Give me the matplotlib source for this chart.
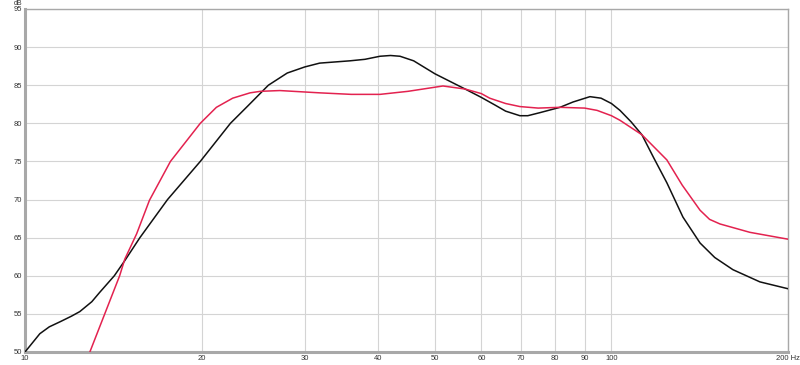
import matplotlib
matplotlib.use("Agg")
import matplotlib.pyplot as plt
from matplotlib.ticker import FixedLocator, NullLocator

# black trace (Hz, dB)
black_f = [10.0, 10.6, 11.0, 11.5, 12.0, 12.4, 13.0, 13.4, 14.2, 14.8, 15.7,
           17.5, 19.9, 22.4, 24.0, 26.0, 28.0, 30.0, 31.8, 35.8, 38.0, 40.3, 42.0,
           43.6, 46.0, 50.0, 56.3, 60.0, 63.3, 66.0, 69.8, 72.0, 75.5, 81.7, 86.0,
           91.9, 96.0, 100.0, 103.4, 108.0, 112.7, 118.0, 124.3, 132.4, 141.6,
           150.0, 161.1, 179.1, 200.0]
black_db = [50.0, 52.4, 53.3, 54.0, 54.7, 55.3, 56.6, 57.8, 60.0, 62.0, 65.0,
            70.0, 75.0, 80.0, 82.3, 85.0, 86.6, 87.4, 87.9, 88.2, 88.4, 88.8, 88.9,
            88.8, 88.2, 86.5, 84.5, 83.4, 82.4, 81.6, 81.0, 81.0, 81.4, 82.1, 82.8,
            83.5, 83.3, 82.6, 81.7, 80.2, 78.5, 75.5, 72.2, 67.7, 64.3, 62.4, 60.8,
            59.2, 58.3]

# red trace (Hz, dB)
red_f = [12.9, 14.5, 14.8, 15.5, 16.3, 17.7, 19.9, 21.2, 22.6, 24.2, 25.2,
         27.2, 31.8, 36.0, 40.3, 45.0, 51.6, 56.3, 60.0, 62.0, 66.0, 69.8, 75.0,
         81.7, 90.0, 94.5, 100.0, 103.4, 112.7, 124.3, 132.0, 141.6, 147.0, 153.1,
         172.2, 200.0]
red_db = [50.0, 60.0, 62.2, 65.5, 69.9, 75.0, 80.0, 82.1, 83.3, 84.0, 84.2,
          84.3, 84.0, 83.8, 83.8, 84.2, 84.9, 84.5, 83.9, 83.3, 82.6, 82.2, 82.0,
          82.1, 82.0, 81.7, 81.0, 80.4, 78.5, 75.2, 71.9, 68.6, 67.4, 66.8, 65.7,
          64.8]

xticks = [10, 20, 30, 40, 50, 60, 70, 80, 90, 100, 200]
xlabels = ["10", "20", "30", "40", "50", "60", "70", "80", "90", "100", "200 Hz"]
yticks = [50, 55, 60, 65, 70, 75, 80, 85, 90, 95]

plt.rcParams['font.family'] = ['Liberation Sans', 'DejaVu Sans']

fig = plt.figure(figsize=(8, 3.65), dpi=100)
ax = fig.add_axes([25/800, 13/365, 763/800, 343/365])

ax.plot(black_f, black_db, color="#111111", lw=1.1, zorder=3)
ax.plot(red_f, red_db, color="#e3224f", lw=1.1, zorder=3)

ax.set_xscale("log")
ax.set_xlim(10, 200)
ax.set_ylim(50, 95)
ax.xaxis.set_major_locator(FixedLocator(xticks))
ax.xaxis.set_minor_locator(NullLocator())
ax.set_xticklabels(xlabels)
ax.set_yticks(yticks)
ax.set_yticklabels([str(v) for v in yticks])

ax.grid(True, color="#d4d4d4", lw=0.8)
ax.set_axisbelow(True)
ax.tick_params(length=0, labelsize=5.5, labelcolor="#333333", pad=2)
for s in ax.spines.values():
    s.set_color("#a8a8a8")
    s.set_linewidth(1.0)
ax.spines["left"].set_linewidth(2.2)
ax.spines["bottom"].set_linewidth(2.2)

# axis unit above the y labels
fig.text(22/800, 1.0, "dB", ha="right", va="top", fontsize=5, color="#333333")

fig.savefig("out.png", dpi=100)
